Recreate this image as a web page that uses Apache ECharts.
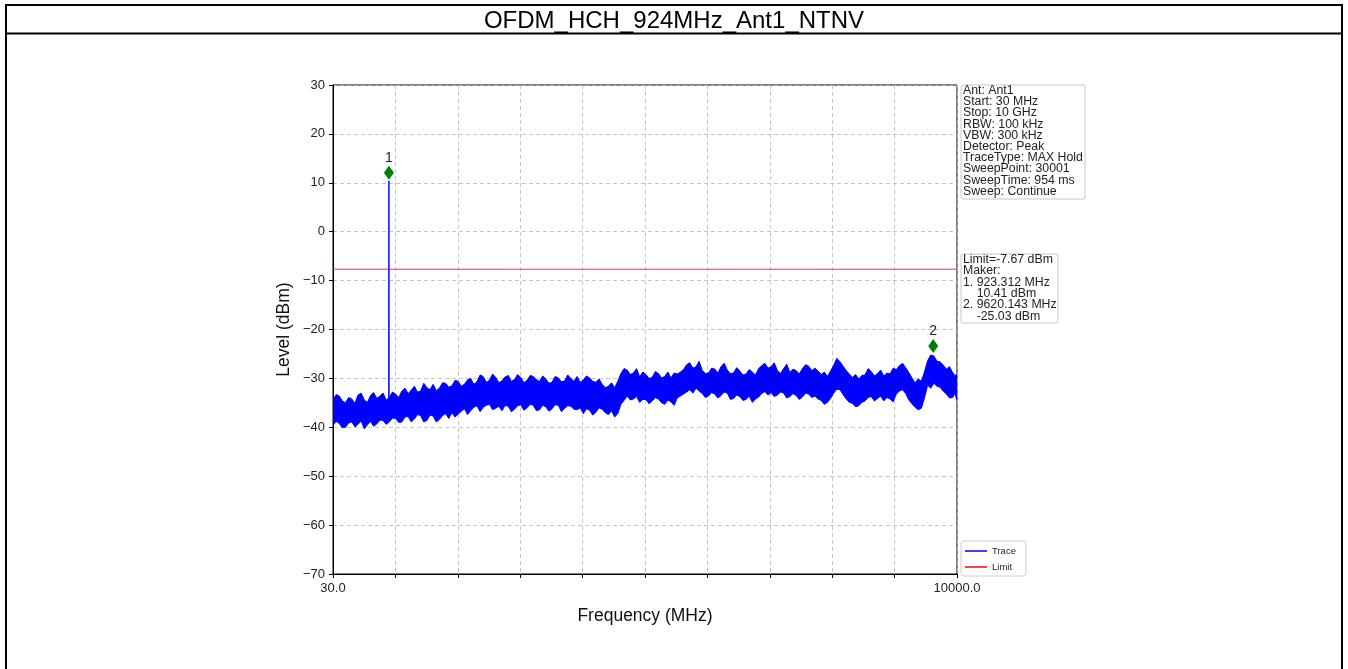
<!DOCTYPE html>
<html><head><meta charset="utf-8">
<script src="https://cdn.jsdelivr.net/npm/echarts@6/dist/echarts.min.js"></script>
<style>html,body{margin:0;padding:0;background:#fff}#c{width:1348px;height:669px}</style>
</head><body><div id="c"></div>
<script>
const TITLE = 'OFDM_HCH_924MHz_Ant1_NTNV';
const F_START = 30, F_STOP = 10000;
// trace envelope read at every ~100 MHz (upper / lower edge of the MAX Hold noise band)
const freq = [30,130,230,330,430,530,630,730,830,930,1030,1130,1230,1330,1430,1530,1630,1730,1830,1930,
  2030,2130,2230,2330,2430,2530,2630,2730,2830,2930,3030,3130,3230,3330,3430,3530,3630,3730,3830,3930,
  4030,4130,4230,4330,4430,4530,4630,4730,4830,4930,5030,5130,5230,5330,5430,5530,5630,5730,5830,5930,
  6030,6130,6230,6330,6430,6530,6630,6730,6830,6930,7030,7130,7230,7330,7430,7530,7630,7730,7830,7930,
  8030,8130,8230,8330,8430,8530,8630,8730,8830,8930,9030,9130,9230,9330,9430,9530,9630,9730,9830,9930,10000];
const traceHi = [-34.5,-33.6,-35.0,-34.2,-33.4,-34.4,-33.5,-34.1,-33.0,-33.9,-33.2,-32.6,-33.1,-31.6,-32.6,-31.9,-31.2,-32.0,-31.0,-31.5,
  -30.6,-31.2,-30.0,-30.7,-29.6,-30.4,-29.8,-30.5,-29.4,-30.2,-29.8,-30.4,-29.6,-30.6,-30.1,-30.8,-29.9,-30.5,-30.0,-29.6,
  -30.3,-29.9,-30.8,-31.2,-31.6,-31.9,-29.0,-28.3,-28.9,-29.7,-29.2,-29.8,-29.0,-29.6,-29.9,-29.1,-28.2,-26.8,-27.6,-28.4,
  -28.9,-28.1,-27.6,-28.3,-28.9,-28.5,-29.1,-28.7,-28.0,-26.9,-27.6,-28.4,-28.0,-28.8,-28.4,-28.0,-27.5,-27.9,-29.2,-29.6,
  -27.3,-26.6,-28.4,-29.8,-30.1,-29.3,-28.6,-29.0,-29.5,-29.1,-28.2,-26.9,-28.8,-30.9,-30.6,-26.4,-25.4,-26.6,-28.1,-28.8,-29.2];
const traceLo = [-39.6,-39.2,-40.0,-38.9,-39.4,-40.3,-38.8,-39.3,-38.6,-38.9,-38.2,-38.9,-37.8,-38.3,-37.6,-38.6,-37.7,-38.4,-37.2,-37.0,
  -37.3,-36.2,-36.6,-35.6,-35.9,-35.3,-36.1,-36.6,-35.7,-36.3,-35.4,-36.0,-35.5,-36.4,-35.8,-36.2,-35.5,-36.1,-35.7,-36.4,
  -37.2,-36.5,-36.9,-36.3,-37.4,-37.9,-35.3,-33.6,-34.2,-34.9,-34.3,-34.6,-34.2,-35.3,-34.8,-34.0,-33.2,-32.3,-32.0,-33.1,
  -33.6,-33.2,-33.5,-33.0,-34.1,-33.7,-34.3,-34.9,-33.8,-32.7,-32.9,-33.4,-33.0,-33.7,-33.5,-33.8,-33.2,-33.6,-34.5,-34.9,
  -33.0,-32.3,-34.2,-35.1,-35.6,-34.6,-33.7,-34.1,-34.6,-34.2,-33.2,-32.3,-34.4,-35.9,-36.1,-31.4,-31.0,-31.8,-33.2,-33.9,-34.4];
// in-between readings (noise spikes) at the half steps
const freqMid = [80,180,280,380,480,580,680,780,880,980,1080,1180,1280,1380,1480,1580,1680,1780,1880,1980,
  2080,2180,2280,2380,2480,2580,2680,2780,2880,2980,3080,3180,3280,3380,3480,3580,3680,3780,3880,3980,
  4080,4180,4280,4380,4480,4580,4680,4780,4880,4980,5080,5180,5280,5380,5480,5580,5680,5780,5880,5980,
  6080,6180,6280,6380,6480,6580,6680,6780,6880,6980,7080,7180,7280,7380,7480,7580,7680,7780,7880,7980,
  8080,8180,8280,8380,8480,8580,8680,8780,8880,8980,9080,9180,9280,9380,9480,9580,9680,9780,9880,9965];
const traceHiMid = [-33.3,-34.6,-33.9,-35.1,-33.0,-34.9,-32.9,-33.6,-34.4,-32.8,-33.9,-32.0,-32.4,-32.8,-31.0,-32.3,-32.5,-30.9,-31.8,-30.4,
  -31.6,-30.3,-31.2,-29.3,-30.8,-29.1,-30.9,-29.7,-30.6,-29.2,-30.9,-29.4,-30.3,-29.5,-31.0,-29.6,-30.7,-29.3,-30.6,-30.8,
  -29.5,-30.6,-30.1,-31.9,-30.9,-30.6,-28.0,-29.2,-28.0,-28.7,-30.0,-28.6,-29.9,-28.7,-28.9,-28.7,-27.2,-27.9,-26.5,-29.0,
  -27.9,-28.9,-26.9,-29.0,-27.8,-29.3,-28.2,-29.3,-27.4,-27.9,-26.8,-29.0,-27.1,-28.1,-29.1,-27.2,-28.4,-28.5,-28.7,-28.5,
  -25.9,-27.5,-29.1,-29.2,-29.4,-28.0,-29.5,-28.3,-28.9,-27.9,-27.4,-27.8,-29.9,-30.1,-28.7,-25.2,-26.5,-27.3,-27.6,-29.4];
const traceLoMid = [-38.8,-40.1,-39.1,-39.9,-38.7,-39.5,-39.8,-38.5,-39.4,-38.1,-39.0,-37.9,-38.9,-37.4,-38.9,-37.5,-38.9,-37.6,-38.2,-37.9,
  -36.7,-37.4,-35.9,-36.8,-35.5,-36.4,-35.7,-35.5,-36.8,-35.6,-36.5,-35.3,-36.6,-35.5,-36.7,-35.4,-36.8,-35.6,-36.3,-36.0,
  -36.2,-37.5,-36.0,-37.0,-36.6,-37.2,-34.5,-34.4,-33.7,-34.3,-35.2,-33.9,-35.0,-34.4,-35.5,-33.6,-32.8,-33.0,-32.6,-33.9,
  -32.9,-34.0,-32.8,-34.3,-33.4,-34.5,-33.6,-34.2,-33.1,-33.4,-33.7,-32.8,-34.0,-33.1,-34.3,-33.0,-33.9,-34.2,-35.3,-34.1,
  -32.2,-33.3,-34.9,-35.8,-34.9,-33.9,-34.6,-33.6,-33.9,-34.8,-32.6,-33.1,-35.2,-36.4,-34.0,-32.0,-31.6,-32.6,-34.0,-33.1];
const spikeFreq = [920, 923.312, 926.6];
const spikeLevel = [-34.2, 10.41, -34.6];
const markerFreq = [923.312, 9620.143];
const markerLevel = [10.41, -25.03];
const markerNames = ['1', '2'];
const limitLevel = -7.67;
const xTickLabels = ['30.0', '10000.0'];
const infoLines = ['Ant: Ant1','Start: 30 MHz','Stop: 10 GHz','RBW: 100 kHz','VBW: 300 kHz','Detector: Peak','TraceType: MAX Hold','SweepPoint: 30001','SweepTime: 954 ms','Sweep: Continue'];
const markerInfoLines = ['Limit=-7.67 dBm','Maker:','1. 923.312 MHz','    10.41 dBm','2. 9620.143 MHz','    -25.03 dBm'];

const FONT = '"Liberation Sans", Arial, sans-serif';
const SPAN = F_STOP - F_START;
const toX = f => f - F_START;
const BLUE = '#0000ff';

// merge main readings and half-step readings in frequency order
const allF = [], allHi = [], allLo = [];
for (let i = 0; i < freq.length; i++) {
  allF.push(freq[i]); allHi.push(traceHi[i]); allLo.push(traceLo[i]);
  if (i < freqMid.length) { allF.push(freqMid[i]); allHi.push(traceHiMid[i]); allLo.push(traceLoMid[i]); }
}

const chart = echarts.init(document.getElementById('c'));
chart.setOption({
  animation: false,
  backgroundColor: '#fff',
  title: { text: TITLE, left: 'center', top: 4, textStyle: { fontFamily: FONT, fontSize: 24, fontWeight: 'normal', color: '#000' } },
  grid: { left: 333, top: 85, width: 624, height: 489, show: true, borderColor: '#000', borderWidth: 1, containLabel: false },
  legend: {
    data: ['Trace', 'Limit'], orient: 'vertical', left: 961, top: 541,
    icon: 'rect', itemWidth: 22, itemHeight: 1.5, itemGap: 6,
    borderColor: '#cccccc', borderWidth: 1, borderRadius: 3, padding: [5, 10, 4, 4],
    textStyle: { fontFamily: FONT, fontSize: 9.5, color: '#222' }
  },
  xAxis: {
    type: 'value', min: 0, max: SPAN, interval: SPAN / 10,
    name: 'Frequency (MHz)', nameLocation: 'middle', nameGap: 33,
    nameTextStyle: { fontFamily: FONT, fontSize: 17.5, color: '#111' },
    axisLine: { show: true, onZero: false, lineStyle: { color: '#000', width: 1 } },
    axisTick: { show: true, inside: false, length: 4, lineStyle: { color: '#000' } },
    axisLabel: { showMinLabel: true, showMaxLabel: true, margin: 8, fontFamily: FONT, fontSize: 13, color: '#222',
      formatter: v => (v === 0 ? xTickLabels[0] : (Math.abs(v - SPAN) < 1e-6 ? xTickLabels[1] : '')) },
    splitLine: { show: true, lineStyle: { type: [4, 3], color: '#b8b8b8', width: 0.8 } }
  },
  yAxis: {
    type: 'value', min: -70, max: 30, interval: 10,
    name: 'Level (dBm)', nameLocation: 'middle', nameGap: 40,
    nameTextStyle: { fontFamily: FONT, fontSize: 17.5, color: '#111' },
    axisLine: { show: true, lineStyle: { color: '#000', width: 1 } },
    axisTick: { show: true, inside: false, length: 4, lineStyle: { color: '#000' } },
    axisLabel: { margin: 8, fontFamily: FONT, fontSize: 13, color: '#222', formatter: v => String(v).replace('-', '\u2212') },
    splitLine: { show: true, lineStyle: { type: [4, 3], color: '#b8b8b8', width: 0.8 } }
  },
  series: [
    { name: 'Trace', type: 'line', symbol: 'none', color: BLUE, lineStyle: { color: BLUE, width: 1 }, z: 4,
      data: spikeFreq.map((f, i) => [toX(f), spikeLevel[i]]) },
    { name: 'Trace', type: 'custom', coordinateSystem: 'cartesian2d', clip: true, z: 3,
      itemStyle: { color: BLUE },
      encode: { x: 0, y: 1 },
      data: [[toX(allF[0]), allLo[0]]],
      renderItem: (params, api) => {
        const pts = [];
        for (let i = 0; i < allF.length; i++) pts.push(api.coord([toX(allF[i]), allHi[i]]));
        for (let i = allF.length - 1; i >= 0; i--) pts.push(api.coord([toX(allF[i]), allLo[i]]));
        return { type: 'polygon', shape: { points: pts }, style: { fill: BLUE, stroke: BLUE, lineWidth: 1 } };
      } },
    { name: 'Limit', type: 'line', symbol: 'none', color: '#ff0000', lineStyle: { color: '#ff0000', width: 0.8 }, z: 5,
      data: [[toX(F_START), limitLevel], [toX(F_STOP), limitLevel]] },
    { name: 'Markers', type: 'scatter', symbol: 'diamond', symbolSize: [10, 14], symbolOffset: [0, -8], z: 6,
      itemStyle: { color: '#008000', opacity: 1 },
      label: { show: true, position: 'top', distance: 1, fontFamily: FONT, fontSize: 14, color: '#222',
        formatter: p => markerNames[p.dataIndex] },
      data: markerFreq.map((f, i) => [toX(f), markerLevel[i]]) }
  ],
  graphic: [
    { type: 'rect', shape: { x: 6, y: 5, width: 1336, height: 700 }, style: { fill: 'none', stroke: '#000', lineWidth: 2 }, silent: true },
    { type: 'line', shape: { x1: 6, y1: 33.5, x2: 1342, y2: 33.5 }, style: { stroke: '#000', lineWidth: 2 }, silent: true },
    { type: 'rect', shape: { x: 961, y: 85, width: 124, height: 114, r: 2 }, style: { fill: '#fff', stroke: '#c8c8c8', lineWidth: 1 }, silent: true },
    { type: 'text', x: 963, y: 85, style: { text: infoLines.join('\n'), fontFamily: FONT, fontSize: 12.3, lineHeight: 11.2, fill: '#222' }, silent: true },
    { type: 'rect', shape: { x: 961, y: 254, width: 97, height: 69, r: 2 }, style: { fill: '#fff', stroke: '#c8c8c8', lineWidth: 1 }, silent: true },
    { type: 'text', x: 963, y: 254, style: { text: markerInfoLines.join('\n'), fontFamily: FONT, fontSize: 12.3, lineHeight: 11.3, fill: '#222' }, silent: true }
  ]
});
</script></body></html>
